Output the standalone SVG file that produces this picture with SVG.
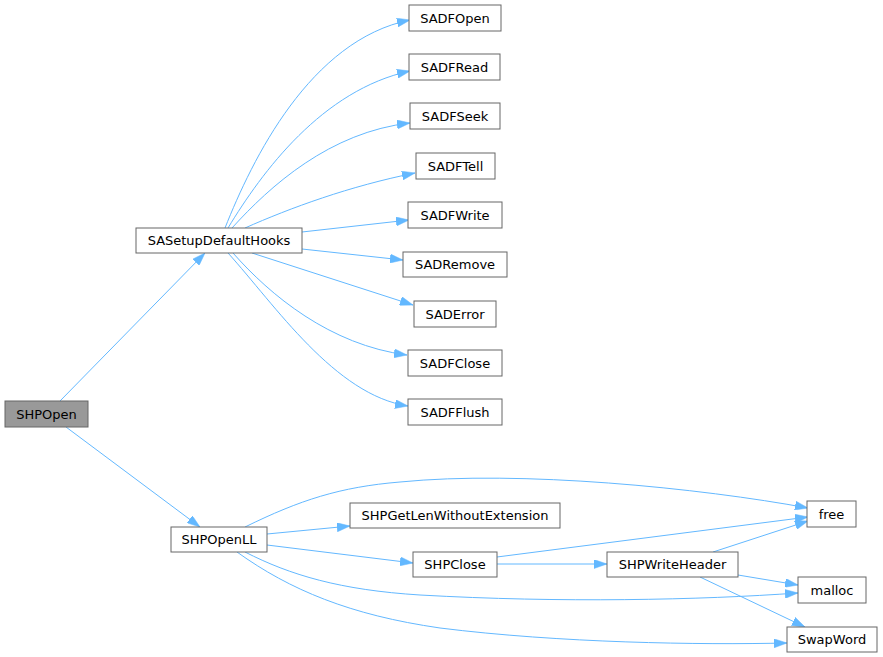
<svg xmlns="http://www.w3.org/2000/svg" width="883" height="657" viewBox="0 0 883 657">
<defs>
<style>
.n rect{fill:#ffffff;stroke:#666666;stroke-width:1}
.n.root rect{fill:#999999}
.n text{font-family:"DejaVu Sans",sans-serif;font-size:13px;fill:#000000;text-anchor:middle}
#edges path{fill:none;stroke:#63b8ff;stroke-width:1;marker-end:url(#ah)}
</style>
<marker id="ah" viewBox="0 0 13 9" refX="13" refY="4.5" markerWidth="13" markerHeight="9" markerUnits="userSpaceOnUse" orient="auto">
<path d="M0,0 L13,4.5 L0,9 z" fill="#63b8ff" stroke="#63b8ff" stroke-width="0.5"/>
</marker>
</defs>
<rect width="883" height="657" fill="#ffffff"/>
<g id="edges">
<path d="M60,401 L205,253"/>
<path d="M66,427 L200,527"/>
<path d="M225,228 C252,160 310,40 410,20"/>
<path d="M228,228 C262,172 322,90 410,71"/>
<path d="M232,228 C270,186 330,132 410,123"/>
<path d="M245,228 C290,208 350,186 415,173"/>
<path d="M302,232 L409,220"/>
<path d="M302,249 L403,260"/>
<path d="M252,253 L413,305"/>
<path d="M233,253 C270,295 330,345 407,355"/>
<path d="M228,253 C275,305 335,395 408,406"/>
<path d="M245,527 C300,500 340,487 400,482 C520,470 700,488 808,508"/>
<path d="M267,534 L350,526"/>
<path d="M267,545 L413,563"/>
<path d="M245,552 C290,575 340,590 420,595 C560,603 700,600 798,593"/>
<path d="M237,552 C290,590 350,615 440,628 C560,643 700,645 787,643"/>
<path d="M497,557 L808,517"/>
<path d="M497,564 L607,564"/>
<path d="M713,552 L808,521"/>
<path d="M738,575 L798,585"/>
<path d="M700,577 L805,627"/>
</g>
<g id="SHPOpen" class="n root"><rect x="5" y="401" width="83" height="26"/><text x="46.5" y="418.5">SHPOpen</text></g>
<g id="SASetupDefaultHooks" class="n"><rect x="136" y="228" width="166" height="25"/><text x="219" y="245">SASetupDefaultHooks</text></g>
<g id="SADFOpen" class="n"><rect x="409" y="5" width="92" height="26"/><text x="455" y="22.5">SADFOpen</text></g>
<g id="SADFRead" class="n"><rect x="409" y="54" width="91" height="26"/><text x="454.5" y="71.5">SADFRead</text></g>
<g id="SADFSeek" class="n"><rect x="410" y="103" width="90" height="26"/><text x="455" y="120.5">SADFSeek</text></g>
<g id="SADFTell" class="n"><rect x="416" y="153" width="79" height="26"/><text x="455.5" y="170.5">SADFTell</text></g>
<g id="SADFWrite" class="n"><rect x="408" y="202" width="94" height="26"/><text x="455" y="219.5">SADFWrite</text></g>
<g id="SADRemove" class="n"><rect x="403" y="252" width="104" height="25"/><text x="455" y="269">SADRemove</text></g>
<g id="SADError" class="n"><rect x="414" y="301" width="82" height="26"/><text x="455" y="318.5">SADError</text></g>
<g id="SADFClose" class="n"><rect x="408" y="350" width="94" height="26"/><text x="455" y="367.5">SADFClose</text></g>
<g id="SADFFlush" class="n"><rect x="408" y="399" width="94" height="26"/><text x="455" y="416.5">SADFFlush</text></g>
<g id="SHPOpenLL" class="n"><rect x="171" y="527" width="96" height="25"/><text x="219" y="544">SHPOpenLL</text></g>
<g id="SHPGetLenWithoutExtension" class="n"><rect x="350" y="503" width="210" height="25"/><text x="455" y="520">SHPGetLenWithoutExtension</text></g>
<g id="SHPClose" class="n"><rect x="413" y="552" width="84" height="25"/><text x="455" y="569">SHPClose</text></g>
<g id="free" class="n"><rect x="807" y="501" width="49" height="26"/><text x="831.5" y="518.5">free</text></g>
<g id="SHPWriteHeader" class="n"><rect x="607" y="552" width="131" height="25"/><text x="672.5" y="569">SHPWriteHeader</text></g>
<g id="malloc" class="n"><rect x="798" y="577" width="68" height="26"/><text x="832" y="594.5">malloc</text></g>
<g id="SwapWord" class="n"><rect x="787" y="627" width="90" height="25"/><text x="832" y="644">SwapWord</text></g>
</svg>
